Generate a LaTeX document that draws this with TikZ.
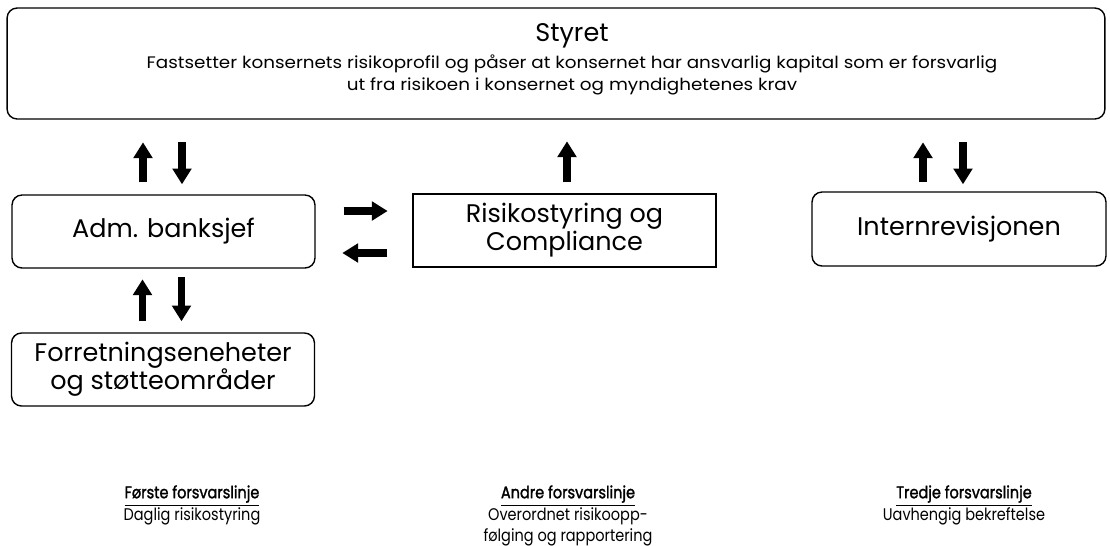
\documentclass[tikz,border=0pt]{standalone}
\usepackage{fontspec}
\setmainfont{Poppins}
\newfontfamily\bred[FakeStretch=1.1]{Poppins}
\newfontfamily\smal[FakeStretch=0.86]{Poppins}
\newfontfamily\halvfet[FakeStretch=0.86,FakeBold=1.6]{Poppins}
\usetikzlibrary{arrows.meta}

\begin{document}
\begin{tikzpicture}[x=0.02cm,y=-0.02cm,
    boks/.style={draw,line width=0.8pt,rounded corners=0.2cm,minimum width=6.06cm,
      minimum height=1.46cm,align=center,inner sep=0pt,
      font=\fontsize{14.5}{16}\selectfont},
    pil/.style={line width=4.5pt,-{Triangle[length=9pt,width=10.5pt]}},
    linje/.style={align=center,inner sep=0pt,anchor=north,
      font=\smal\fontsize{9.6}{11.8}\selectfont}]
  \useasboundingbox (0,0) rectangle (1110,545);
  \node[boks,minimum width=21.96cm,minimum height=2.22cm] (styret) at (556,63.5) {};
  \node[align=center,inner sep=0pt,font=\bred\fontsize{9.5}{12.5}\selectfont]
    (styret-tekst) at (572,59)
    {{\rmfamily\fontsize{14.5}{16}\selectfont Styret}\\[3pt]
     Fastsetter konsernets risikoprofil og påser at konsernet har ansvarlig kapital som er forsvarlig\\
     ut fra risikoen i konsernet og myndighetenes krav};
  \node[boks] (adm) at (163.5,231.5) {Adm. banksjef};
  \node[boks,rounded corners=0pt] (risiko) at (564.5,230.5) {Risikostyring og\\Compliance};
  \node[boks,minimum width=5.88cm,minimum height=1.48cm] (intern) at (959,229) {Internrevisjonen};
  \node[boks] (forr) at (163,369.5) {Forretningseneheter\\og støtteområder};
  \draw[pil] ([xshift=-0.41cm,yshift=0.24cm]adm.north) -- ++(0,-40);
  \draw[pil] ([xshift=0.37cm,yshift=1.04cm]adm.north) -- ++(0,42);
  \draw[pil] ([xshift=-0.41cm,yshift=0.22cm]forr.north) -- ++(0,-42);
  \draw[pil] ([xshift=0.37cm,yshift=1.1cm]forr.north) -- ++(0,44);
  \draw[pil] ([xshift=0.05cm,yshift=0.22cm]risiko.north) -- ++(0,-41);
  \draw[pil] ([xshift=-0.72cm,yshift=0.18cm]intern.north) -- ++(0,-40);
  \draw[pil] ([xshift=0.08cm,yshift=0.98cm]intern.north) -- ++(0,42);
  \draw[pil] ([xshift=0.56cm,yshift=0.41cm]adm.east) -- ++(44,0);
  \draw[pil] ([xshift=-0.5cm,yshift=-0.45cm]risiko.west) -- ++(-45,0);
  \node[linje] (forste) at (192,485)
    {\underline{\halvfet Første forsvarslinje}\\Daglig risikostyring};
  \node[linje] (andre) at (568,485)
    {\underline{\halvfet Andre forsvarslinje}\\Overordnet risikoopp-\\følging og rapportering};
  \node[linje] (tredje) at (964,485)
    {\underline{\halvfet Tredje forsvarslinje}\\Uavhengig bekreftelse};
\end{tikzpicture}
\end{document}
